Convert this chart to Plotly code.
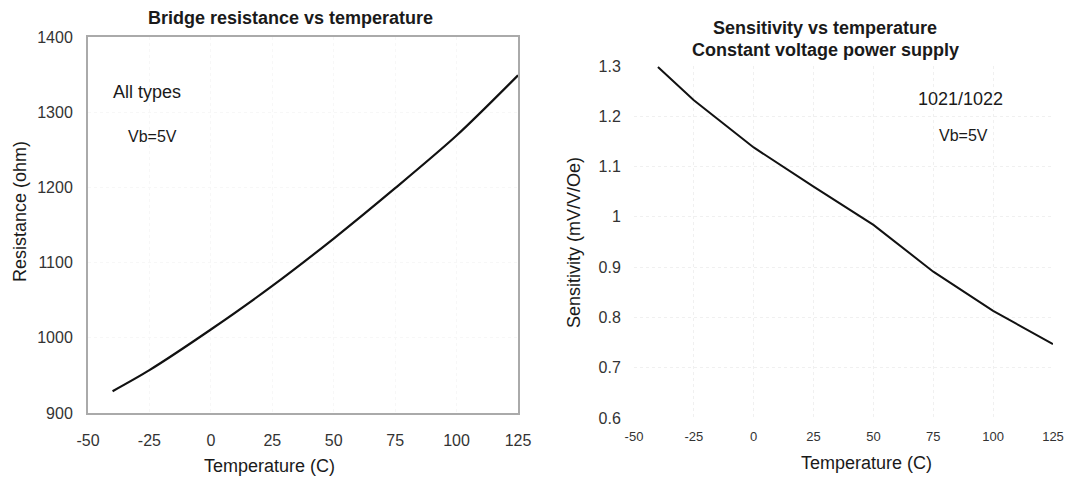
import plotly.graph_objects as go

# ---- data ----
temp_c = [-40, -25, 0, 25, 50, 75, 100, 125]
resistance_ohm = [929, 957, 1011, 1069, 1132, 1199, 1269, 1349]
sensitivity = [1.298, 1.232, 1.138, 1.060, 0.984, 0.891, 0.813, 0.747]

x_ticks = [-50, -25, 0, 25, 50, 75, 100, 125]
x_tick_text = ["-50", "-25", "0", "25", "50", "75", "100", "125"]
res_ticks = [900, 1000, 1100, 1200, 1300, 1400]
sens_ticks = [0.6, 0.7, 0.8, 0.9, 1.0, 1.1, 1.2, 1.3]
sens_tick_text = ["0.6", "0.7", "0.8", "0.9", "1", "1.1", "1.2", "1.3"]

# page body has an 8px margin; the figure fills the rest of the window
OFF = 8
W, H = 1072 - OFF, 479 - OFF
FONT = "Liberation Sans, Arial, Helvetica, sans-serif"


def px(x):
    return (x - OFF) / W


def py(y):
    return 1 - (y - OFF) / H


fig = go.Figure()
fig.add_trace(go.Scatter(x=temp_c, y=resistance_ohm, mode="lines",
                         line=dict(color="#111111", width=2.2, shape="spline", smoothing=0.8),
                         xaxis="x", yaxis="y", showlegend=False, hoverinfo="skip"))
fig.add_trace(go.Scatter(x=temp_c, y=sensitivity, mode="lines",
                         line=dict(color="#111111", width=2),
                         xaxis="x2", yaxis="y2", showlegend=False, hoverinfo="skip"))

tick_color = "#333333"
common_x = dict(range=[-50, 125], tickvals=x_ticks, ticktext=x_tick_text, ticks="outside",
                tickcolor="rgba(0,0,0,0)", zeroline=False, fixedrange=True, automargin=False)

fig.update_layout(
    width=W, height=H,
    margin=dict(l=0, r=0, t=0, b=0, pad=0),
    paper_bgcolor="white", plot_bgcolor="white",
    font=dict(family=FONT, color="#111111"),
    xaxis=dict(domain=[px(88), px(518)], anchor="y", **common_x,
               ticklen=12, tickfont=dict(size=16, color=tick_color),
               showline=True, mirror=True, linecolor="#aaaaaa", linewidth=2,
               showgrid=True, gridcolor="#f7f7f7", griddash="dot"),
    yaxis=dict(domain=[py(413), py(37)], anchor="x", range=[900, 1400],
               tickvals=res_ticks, ticks="outside", ticklen=10,
               tickcolor="rgba(0,0,0,0)", tickfont=dict(size=16, color=tick_color),
               showline=True, mirror=True, linecolor="#aaaaaa", linewidth=2,
               showgrid=True, gridcolor="#f7f7f7", griddash="dot",
               zeroline=False, fixedrange=True, automargin=False),
    xaxis2=dict(domain=[px(634), px(1053)], anchor="y2", **common_x,
                ticklen=6, tickfont=dict(size=13, color=tick_color),
                showline=False, showgrid=True, gridcolor="#f0f0f0", griddash="dot"),
    yaxis2=dict(domain=[py(418), py(66)], anchor="x2", range=[0.6, 1.3],
                tickvals=sens_ticks, ticktext=sens_tick_text, ticks="outside",
                ticklen=9, tickcolor="rgba(0,0,0,0)",
                tickfont=dict(size=16, color=tick_color),
                showline=False, showgrid=True, gridcolor="#f0f0f0", griddash="dot",
                zeroline=False, fixedrange=True, automargin=False),
)

ann = [
    # titles
    dict(text="<b>Bridge resistance vs temperature</b>", x=px(290), y=py(18), size=18),
    dict(text="<b>Sensitivity vs temperature</b>", x=px(825), y=py(28), size=18),
    dict(text="<b>Constant voltage power supply</b>", x=px(825), y=py(50), size=18),
    # axis titles
    dict(text="Temperature (C)", x=px(269), y=py(466), size=18),
    dict(text="Temperature (C)", x=px(866), y=py(463), size=18),
    dict(text="Resistance (ohm)", x=px(20), y=py(212), size=18, angle=-90),
    dict(text="Sensitivity (mV/V/Oe)", x=px(574), y=py(243), size=18, angle=-90),
    # notes
    dict(text="All types", x=px(147), y=py(92), size=18),
    dict(text="Vb=5V", x=px(152), y=py(137), size=16),
    dict(text="1021/1022", x=px(960), y=py(99), size=18),
    dict(text="Vb=5V", x=px(963), y=py(136), size=16),
]
for a in ann:
    fig.add_annotation(text=a["text"], x=a["x"], y=a["y"], xref="paper", yref="paper",
                       xanchor="center", yanchor="middle", showarrow=False,
                       textangle=a.get("angle", 0),
                       font=dict(family=FONT, size=a["size"], color="#1a1a1a"))

fig.write_html("out.html")
